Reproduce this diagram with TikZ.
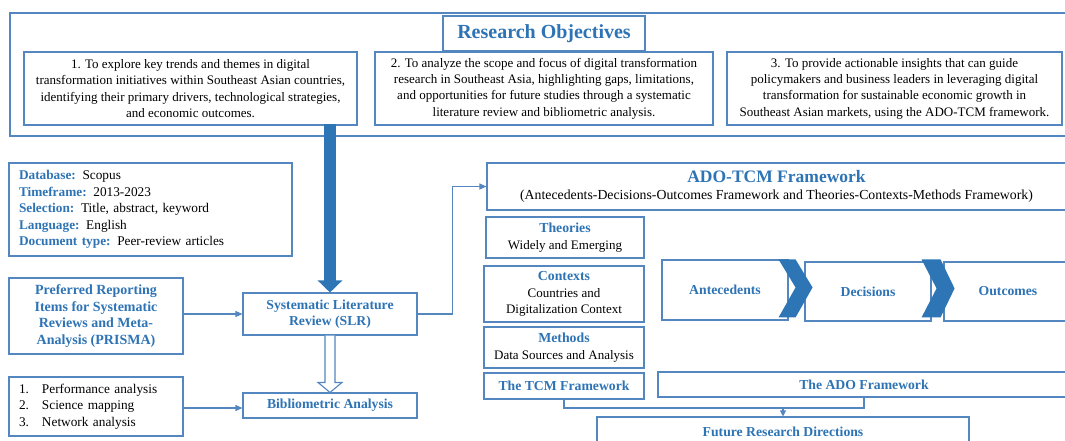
\documentclass[tikz,border=0pt]{standalone}
\usepackage{fontspec}
\setmainfont{Liberation Serif}
\usetikzlibrary{arrows.meta,calc}
\definecolor{lineblue}{RGB}{84,134,192}
\definecolor{txtblue}{RGB}{46,116,181}
\definecolor{arrblue}{RGB}{46,117,182}
\newcommand{\fs}[2]{\fontsize{#1}{#2}\selectfont}
\newcommand{\hb}[1]{\textbf{\textcolor{txtblue}{#1}}}
\newcommand{\hbig}[1]{{\fs{13.8}{16.5}\hb{#1}}}
\tikzset{
  box/.style={draw=lineblue, line width=1.1pt, fill=white, inner sep=0pt, align=center, font=\fs{13}{16.3}},
  bbox/.style={box, font=\fs{13.7}{16.6}\bfseries, text=txtblue},
  conn/.style={draw=lineblue, line width=1.1pt},
  tip/.style={-{Triangle[length=7pt,width=6pt]}},
  chev/.style={fill=arrblue},
}
\begin{document}
\begin{tikzpicture}[x=1pt,y=-1pt]
\useasboundingbox (0,0) rectangle (1065,440);
\clip (0,0) rectangle (1065,440);
\fill[white] (0,0) rectangle (1065,440);

% Research objectives
\node[box, minimum width=1058pt, minimum height=123pt] (outer) at (539,74.5) {};
\node[box, minimum width=333pt, minimum height=73pt] (o1) at (190.5,88.5)
  {1. To explore key trends and themes in digital\\ transformation initiatives within Southeast Asian countries,\\ identifying their primary drivers, technological strategies,\\ and economic outcomes.};
\node[box, minimum width=338pt, minimum height=73pt] (o2) at (544,88.5)
  {2. To analyze the scope and focus of digital transformation\\ research in Southeast Asia, highlighting gaps, limitations,\\ and opportunities for future studies through a systematic\\ literature review and bibliometric analysis.};
\node[box, minimum width=335pt, minimum height=73pt] (o3) at (894.5,88.5)
  {3. To provide actionable insights that can guide\\ policymakers and business leaders in leveraging digital\\ transformation for sustainable economic growth in\\ Southeast Asian markets, using the ADO-TCM framework.};
\node[box, minimum width=202pt, minimum height=35pt, font=\fs{20}{22}\bfseries, text=txtblue] (title) at (544,33.5) {Research Objectives};

% Left column
\node[box, align=left, text width=263pt, inner xsep=10pt, minimum height=93pt, font=\fs{13.3}{16.6}] (db) at (150.5,209.5)
  {\hb{Database:} Scopus\\ \hb{Timeframe:} 2013-2023\\ \hb{Selection:} Title, abstract, keyword\\ \hb{Language:} English\\ \hb{Document type:} Peer-review articles};
\node[bbox, minimum width=174pt, minimum height=76pt, font=\fs{14}{16.6}\bfseries] (prisma) at (96,316)
  {Preferred Reporting\\ Items for Systematic\\ Reviews and Meta-\\ Analysis (PRISMA)};
\node[box, align=left, text width=154pt, inner xsep=10pt, minimum height=59pt, font=\fs{13.3}{16.5}] (list) at (96,406.5)
  {\makebox[23pt][l]{1.}Performance analysis\\ \makebox[23pt][l]{2.}Science mapping\\ \makebox[23pt][l]{3.}Network analysis};
\node[bbox, minimum width=174pt, minimum height=42pt] (slr) at (330,314)
  {Systematic Literature\\ Review (SLR)};
\node[bbox, minimum width=174pt, minimum height=25pt] (bib) at (330,405.5)
  {Bibliometric Analysis};

% Right part
\node[box, minimum width=579pt, minimum height=47pt] (adotcm) at (776.5,186.5)
  {{\fs{17.5}{19}\bfseries\color{txtblue}ADO-TCM Framework}\\[1pt]
   {\fs{13.8}{15}(Antecedents-Decisions-Outcomes Framework and Theories-Contexts-Methods Framework)}};
\node[box, minimum width=158pt, minimum height=41pt, font=\fs{13}{16.5}] (theo) at (565,237.5)
  {\hbig{Theories}\\ Widely and Emerging};
\node[box, minimum width=160pt, minimum height=56pt, font=\fs{13}{16.5}] (ctx) at (564,294)
  {\hbig{Contexts}\\ Countries and\\ Digitalization Context};
\node[box, minimum width=160pt, minimum height=41pt, font=\fs{13}{16.5}] (meth) at (564,347.5)
  {\hbig{Methods}\\ Data Sources and Analysis};
\node[bbox, minimum width=160pt, minimum height=26pt] (tcm) at (564,386) {The TCM Framework};
\node[bbox, minimum width=412pt, minimum height=25pt] (ado) at (864,384.5) {The ADO Framework};
\node[bbox, minimum width=372pt, minimum height=30pt] (future) at (783,432) {Future Research Directions};

\node[bbox, minimum width=126pt, minimum height=60pt] (ante) at (725,290) {Antecedents};
\node[bbox, minimum width=126pt, minimum height=59pt] (deci) at (868,291.5) {Decisions};
\node[bbox, minimum width=128pt, minimum height=59pt] (outc) at (1008,291.5) {Outcomes};

% chevrons
\fill[chev] ($(ante.north east)+(-10,0)$) -- ++(17,0) -- ++(17,28) -- ++(-17,30) -- ++(-17,0) -- ++(17,-30) -- cycle;
\fill[chev] ($(deci.north east)+(-10,-2)$) -- ++(19,0) -- ++(14,29) -- ++(-14,29) -- ++(-19,0) -- ++(15,-29) -- cycle;

% thick arrow
\draw[arrblue, line width=12pt, -{Triangle[width=24pt,length=12pt]}] ($(slr.north |- o1.south)+(0,-2)$) -- (slr.north);
% hollow arrow
\draw[lineblue, line width=1.1pt, fill=white]
  ($(slr.south)+(-5,0)$) -- ($(bib.north)+(-5,-10)$) -- ($(bib.north)+(-12,-10)$) -- (bib.north)
  -- ($(bib.north)+(12,-10)$) -- ($(bib.north)+(5,-10)$) -- ($(slr.south)+(5,0)$);

% connectors
\draw[conn, tip] (prisma.east |- slr.west) -- (slr.west);
\draw[conn, tip] (list.east |- 0,408) -- (bib.west |- 0,408);
\draw[conn, tip] (slr.east) -- ++(35,0) |- (adotcm.west);
\coordinate (j) at (future.north |- 0,408);
\draw[conn] (tcm.south) |- (j) -| (ado.south);
\draw[conn, -{Triangle[length=6pt,width=6pt]}] (j) -- (future.north);
\end{tikzpicture}
\end{document}
